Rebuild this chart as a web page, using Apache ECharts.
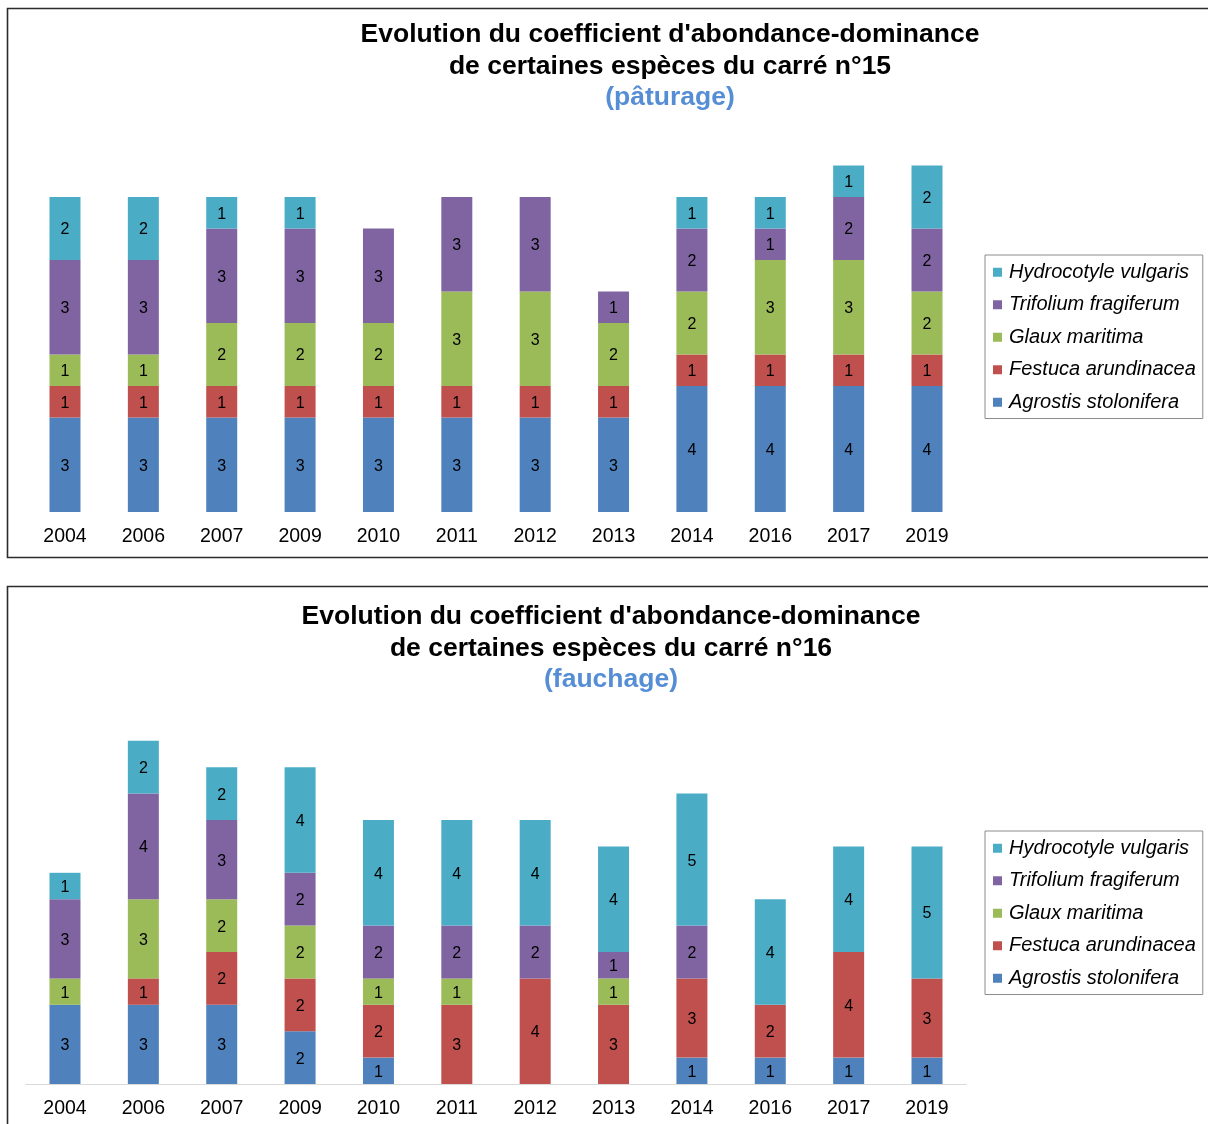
<!DOCTYPE html>
<html>
<head>
<meta charset="utf-8">
<style>
  html, body { margin: 0; padding: 0; background: #fff; }
  #chart { width: 1208px; height: 1124px; }
</style>
<script src="https://cdn.jsdelivr.net/npm/echarts@6/dist/echarts.min.js"></script>
</head>
<body>
<div id="chart"></div>
<script>
// Years surveyed (same for both plots)
const years = ['2004', '2006', '2007', '2009', '2010', '2011', '2012', '2013', '2014', '2016', '2017', '2019'];

// Species, in stacking order (bottom to top)
const species = ['Agrostis stolonifera', 'Festuca arundinacea', 'Glaux maritima', 'Trifolium fragiferum', 'Hydrocotyle vulgaris'];
const speciesColors = ['#4F81BD', '#C0504D', '#9BBB59', '#8064A2', '#4BACC6'];

// Carré n°15 (pâturage) — abundance-dominance coefficients
const p15Agrostis    = [3, 3, 3, 3, 3, 3, 3, 3, 4, 4, 4, 4];
const p15Festuca     = [1, 1, 1, 1, 1, 1, 1, 1, 1, 1, 1, 1];
const p15Glaux       = [1, 1, 2, 2, 2, 3, 3, 2, 2, 3, 3, 2];
const p15Trifolium   = [3, 3, 3, 3, 3, 3, 3, 1, 2, 1, 2, 2];
const p15Hydrocotyle = [2, 2, 1, 1, null, null, null, null, 1, 1, 1, 2];

// Carré n°16 (fauchage)
const p16Agrostis    = [3, 3, 3, 2, 1, null, null, null, 1, 1, 1, 1];
const p16Festuca     = [null, 1, 2, 2, 2, 3, 4, 3, 3, 2, 4, 3];
const p16Glaux       = [1, 3, 2, 2, 1, 1, null, 1, null, null, null, null];
const p16Trifolium   = [3, 4, 3, 2, 2, 2, 2, 1, 2, null, null, null];
const p16Hydrocotyle = [1, 2, 2, 4, 4, 4, 4, 4, 5, 4, 4, 5];

const plot15 = [p15Agrostis, p15Festuca, p15Glaux, p15Trifolium, p15Hydrocotyle];
const plot16 = [p16Agrostis, p16Festuca, p16Glaux, p16Trifolium, p16Hydrocotyle];

const FONT = '"Liberation Sans", Arial, sans-serif';

function stackSeries(values, axisIndex, stackName) {
  return values.map((data, i) => ({
    name: species[i],
    type: 'bar',
    stack: stackName,
    xAxisIndex: axisIndex,
    yAxisIndex: axisIndex,
    barWidth: 31,
    data: data,
    itemStyle: { color: speciesColors[i] },
    label: {
      show: true,
      position: 'inside',
      color: '#000',
      fontSize: 16,
      fontFamily: FONT,
      offset: [0, 1.5]
    },
    emphasis: { disabled: true }
  }));
}

function titleBlock(line1, line2, sub, cx, top) {
  return {
    text: line1 + '\n' + line2,
    subtext: sub,
    left: cx,
    top: top,
    textAlign: 'center',
    padding: 0,
    itemGap: 0,
    textStyle: { fontFamily: FONT, fontSize: 26.5, fontWeight: 'bold', color: '#000', lineHeight: 32 },
    subtextStyle: { fontFamily: FONT, fontSize: 26.5, fontWeight: 'bold', color: '#558ED5', lineHeight: 31 }
  };
}

function legendBlock(top) {
  return {
    orient: 'vertical',
    left: 985,
    top: top,
    data: species.slice().reverse(),
    icon: 'rect',
    itemWidth: 9,
    itemHeight: 9,
    itemGap: 12,
    padding: [7, 7, 6, 8],
    borderColor: '#8c8c8c',
    borderWidth: 1,
    selectedMode: false,
    textStyle: { fontFamily: FONT, fontSize: 20, fontStyle: 'italic', color: '#000', lineHeight: 20.5, padding: [0, 0, 0, 2] }
  };
}

function xAxisFor(gridIndex, showLine) {
  return {
    type: 'category',
    gridIndex: gridIndex,
    data: years,
    axisTick: { show: false },
    axisLine: { show: showLine, lineStyle: { color: '#d9d9d9', width: 1 } },
    axisLabel: { color: '#000', fontSize: 19.5, fontFamily: FONT, margin: 15 }
  };
}

function yAxisFor(gridIndex, max) {
  return {
    type: 'value',
    gridIndex: gridIndex,
    min: 0,
    max: max,
    show: false,
    splitLine: { show: false }
  };
}

const chart = echarts.init(document.getElementById('chart'), null, { renderer: 'canvas' });

chart.setOption({
  backgroundColor: '#fff',
  animation: false,
  title: [
    titleBlock("Evolution du coefficient d'abondance-dominance", 'de certaines espèces du carré n°15', '(pâturage)', 670, 18.5),
    titleBlock("Evolution du coefficient d'abondance-dominance", 'de certaines espèces du carré n°16', '(fauchage)', 611, 600.5)
  ],
  legend: [legendBlock(255), legendBlock(831)],
  grid: [
    { left: 25.8, width: 940.4, top: 134, height: 378 },
    { left: 25.8, width: 940.4, top: 714.4, height: 369.6 }
  ],
  xAxis: [xAxisFor(0, false), xAxisFor(1, true)],
  yAxis: [yAxisFor(0, 12), yAxisFor(1, 14)],
  series: [].concat(stackSeries(plot15, 0, 'c15'), stackSeries(plot16, 1, 'c16')),
  graphic: [
    { type: 'rect', shape: { x: 7.5, y: 8.5, width: 1215, height: 549 }, style: { fill: null, stroke: '#2b2b2b', lineWidth: 1.6 }, silent: true, z: 100 },
    { type: 'rect', shape: { x: 7.5, y: 586.5, width: 1215, height: 560 }, style: { fill: null, stroke: '#2b2b2b', lineWidth: 1.6 }, silent: true, z: 100 }
  ]
});
</script>
</body>
</html>
